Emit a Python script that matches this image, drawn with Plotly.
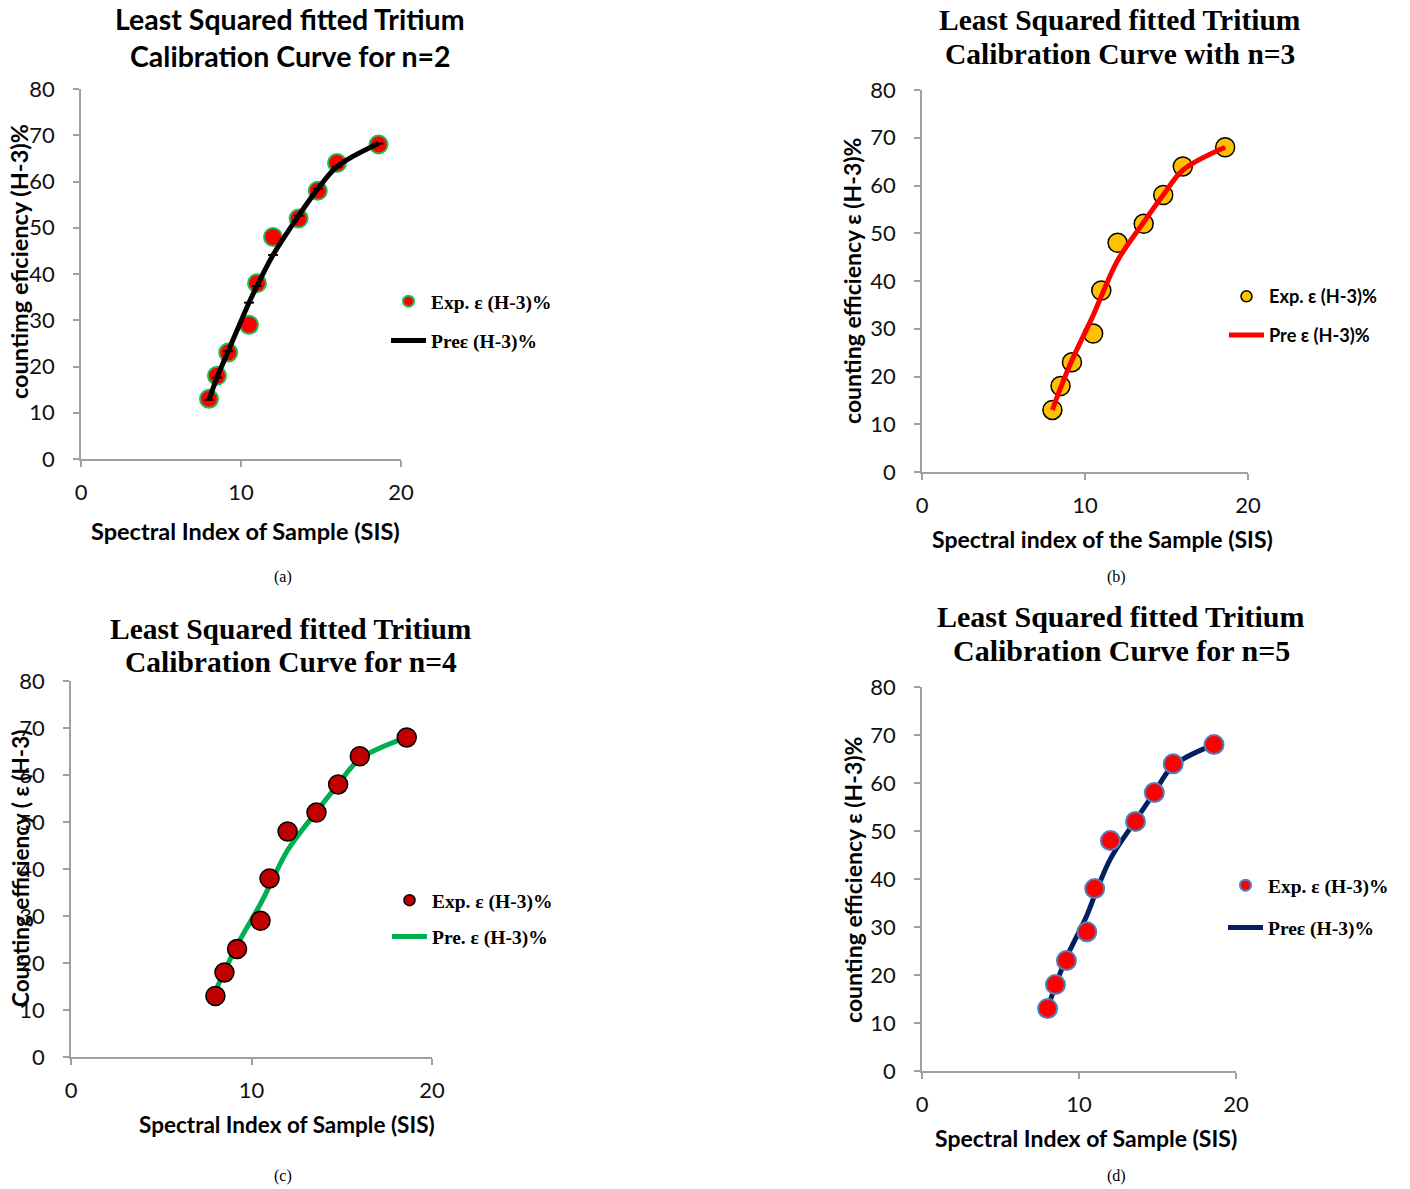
import plotly.graph_objects as go

# ---- data ----
sis = [8.0, 8.5, 9.2, 10.5, 11.0, 12.0, 13.6, 14.8, 16.0, 18.6]
exp_eff = [13, 18, 23, 29, 38, 48, 52, 58, 64, 68]
pred_n2 = [12.8, 17.6, 23.3, 33.8, 37.4, 44.1, 52.6, 58.4, 63.2, 68.2]
pred_n3 = [13.0, 17.6, 23.4, 32.8, 36.8, 44.3, 52.3, 58.0, 63.2, 68.0]
pred_n4 = [14.0, 18.2, 23.8, 32.6, 36.4, 44.0, 52.2, 58.0, 63.4, 68.0]
pred_n5 = [13.0, 17.8, 23.6, 32.4, 36.6, 44.2, 52.2, 58.0, 63.6, 68.0]

titles = [
    ("Least Squared fitted Tritium", "Calibration Curve for n=2"),
    ("Least Squared fitted Tritium", "Calibration Curve with n=3"),
    ("Least Squared fitted Tritium", "Calibration Curve for n=4"),
    ("Least Squared fitted Tritium", "Calibration Curve for n=5"),
]
x_titles = ["Spectral Index of Sample (SIS)", "Spectral index of the Sample (SIS)",
            "Spectral Index of Sample (SIS)", "Spectral Index of Sample (SIS)"]
y_titles = ["countimg eficiency (H-3)%", "counting efficiency \u03b5 (H-3)%",
            "Counting efficiency ( \u03b5 (H-3)", "counting efficiency \u03b5 (H-3)%"]
exp_names = ["Exp. \u03b5 (H-3)%", "Exp. \u03b5 (H-3)%", "Exp. \u03b5 (H-3)%", "Exp. \u03b5 (H-3)%"]
pred_names = ["Pre\u03b5 (H-3)%", "Pre \u03b5 (H-3)%", "Pre. \u03b5 (H-3)%", "Pre\u03b5 (H-3)%"]
captions = ["(a)", "(b)", "(c)", "(d)"]
x_ticks = [0, 10, 20]
y_ticks = [0, 10, 20, 30, 40, 50, 60, 70, 80]

W, H = 1410, 1189
SANS = "Lato"
SERIF = "Liberation Serif"

def px(x):
    return x / W

def py(y):
    return 1 - y / H

panels = [
    dict(x0=81, x1=401, yt=89, yb=459,
         tcx=290, t1=19, t2=56, tfont=SANS, tsize=28.5,
         xtx=245, xty=531, ytx=19, yty=262, atsize=23.5,
         legtext=431, legy=282, lfont=SERIF, lsize=19.5, cap=(283, 577),
         mfill="#ff0000", mline="#22bb55", mlw=2, msize=18,
         lcolor="#000000", line_on_top=True, dash=True, pred=pred_n2, gap=11),
    dict(x0=922, x1=1248, yt=90, yb=472,
         tcx=1120, t1=20, t2=54, tfont=SERIF, tsize=29.5,
         xtx=1102, xty=539, ytx=852, yty=281, atsize=23,
         legtext=1269, legy=278, lfont=SANS, lsize=18.2, cap=(1116, 577),
         mfill="#ffc000", mline="#000000", mlw=1.5, msize=19,
         lcolor="#ff0000", line_on_top=True, dash=False, pred=pred_n3, gap=12),
    dict(x0=71, x1=432, yt=681, yb=1057,
         tcx=291, t1=629, t2=662, tfont=SERIF, tsize=29.5,
         xtx=287, xty=1124, ytx=20, yty=869, atsize=22.5,
         legtext=432, legy=881, lfont=SERIF, lsize=19.5, cap=(283, 1176),
         mfill="#c00000", mline="#000000", mlw=1.5, msize=19,
         lcolor="#00b050", line_on_top=False, dash=False, pred=pred_n4, gap=8),
    dict(x0=922, x1=1236, yt=687, yb=1071,
         tcx=1121, t1=616, t2=650, tfont=SERIF, tsize=30,
         xtx=1086, xty=1138, ytx=853, yty=880, atsize=23,
         legtext=1268, legy=866, lfont=SERIF, lsize=19.5, cap=(1116, 1176),
         mfill="#ff0000", mline="#4f81bd", mlw=2, msize=19,
         lcolor="#002060", line_on_top=False, dash=False, pred=pred_n5, gap=14),
]

fig = go.Figure()
annotations = []
layout = {}
ITEMW = 35

for i, p in enumerate(panels):
    k = "" if i == 0 else str(i + 1)
    xa, ya = "x" + k, "y" + k
    leg = "legend" + k

    scatter = go.Scatter(x=sis, y=exp_eff, mode="markers", xaxis=xa, yaxis=ya,
                         marker=dict(size=p["msize"], color=p["mfill"],
                                     line=dict(color=p["mline"], width=p["mlw"])),
                         showlegend=False, hoverinfo="skip")
    line = go.Scatter(x=sis, y=p["pred"], mode="lines+markers" if p["dash"] else "lines",
                      xaxis=xa, yaxis=ya,
                      line=dict(color=p["lcolor"], width=5, shape="spline", smoothing=1.0),
                      marker=dict(symbol="line-ew-open", size=7,
                                  line=dict(color=p["lcolor"], width=2)),
                      showlegend=False, hoverinfo="skip")
    if p["line_on_top"]:
        fig.add_trace(scatter)
        fig.add_trace(line)
    else:
        fig.add_trace(line)
        fig.add_trace(scatter)

    fig.add_trace(go.Scatter(x=[None], y=[None], mode="markers", xaxis=xa, yaxis=ya,
                             name=exp_names[i], legend=leg, legendgroup="e" + k,
                             marker=dict(size=11, color=p["mfill"],
                                         line=dict(color=p["mline"], width=p["mlw"]))))
    fig.add_trace(go.Scatter(x=[None], y=[None], mode="lines", xaxis=xa, yaxis=ya,
                             name=pred_names[i], legend=leg, legendgroup="p" + k,
                             line=dict(color=p["lcolor"], width=5)))

    lfont = dict(family=p["lfont"], size=p["lsize"], color="black", weight="bold")
    layout[leg] = dict(x=px(p["legtext"] - ITEMW - 10), y=py(p["legy"]),
                       xanchor="left", yanchor="top",
                       bgcolor="rgba(0,0,0,0)", font=lfont, traceorder="grouped",
                       tracegroupgap=p["gap"], itemwidth=ITEMW)

    axis_common = dict(showline=True, linecolor="#a0a0a0", linewidth=1.5,
                       ticks="outside", ticklen=6, tickcolor="#a0a0a0", tickwidth=1.5,
                       showgrid=False, zeroline=False, automargin=False,
                       tickfont=dict(family=SANS, size=22, color="#111111"))
    layout["xaxis" + k] = dict(axis_common, domain=[px(p["x0"]), px(p["x1"])],
                               range=[0, 20], tickvals=x_ticks, anchor=ya,
                               ticklabelstandoff=7)
    layout["yaxis" + k] = dict(axis_common, domain=[py(p["yb"]), py(p["yt"])],
                               range=[0, 80], tickvals=y_ticks, anchor=xa,
                               ticklabelstandoff=14)

    tfont = dict(family=p["tfont"], size=p["tsize"], color="black", weight="bold")
    for txt, ty in ((titles[i][0], p["t1"]), (titles[i][1], p["t2"])):
        annotations.append(dict(text=txt, x=px(p["tcx"]), y=py(ty), xref="paper",
                                yref="paper", showarrow=False, xanchor="center",
                                yanchor="middle", font=tfont))
    afont = dict(family=SANS, size=p["atsize"], color="black", weight="bold")
    annotations.append(dict(text=x_titles[i], x=px(p["xtx"]), y=py(p["xty"]),
                            xref="paper", yref="paper", showarrow=False,
                            xanchor="center", yanchor="middle", font=afont))
    annotations.append(dict(text=y_titles[i], x=px(p["ytx"]), y=py(p["yty"]),
                            xref="paper", yref="paper", showarrow=False, textangle=-90,
                            xanchor="center", yanchor="middle", font=afont))
    annotations.append(dict(text=captions[i], x=px(p["cap"][0]), y=py(p["cap"][1]),
                            xref="paper", yref="paper", showarrow=False,
                            xanchor="center", yanchor="middle",
                            font=dict(family=SERIF, size=16, color="black")))

fig.update_layout(width=W, height=H, autosize=False,
                  margin=dict(l=0, r=0, t=0, b=0, autoexpand=False),
                  paper_bgcolor="white", plot_bgcolor="white",
                  annotations=annotations, **layout)

fig.write_html(
    "out.html",
    config={"displayModeBar": False},
    post_script="document.body.style.margin='0';document.body.style.overflow='hidden';",
)
